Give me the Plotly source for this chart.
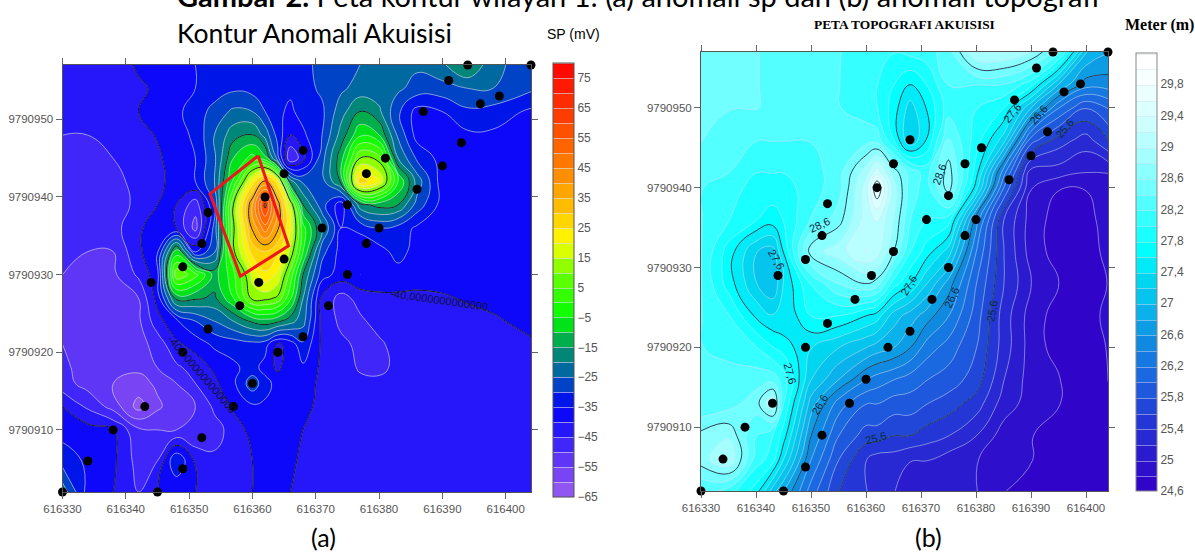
import plotly.graph_objects as go

W, H = 1195, 552

# Stations (shared by both maps)
station_x = [616330,616334,616338,616343,616345,616349,616352,616357,616360,616349,616353,616344,616349,616352,616353,616358,616361,616365,616362,616365,616368,616368,616364,616372,616375,616371,616375,616378,616380,616378,616381,616386,616390,616393,616387,616396,616399,616391,616394,616404]
station_y = [9790902,9790906,9790910,9790913,9790902,9790905,9790909,9790913,9790916,9790920,9790923,9790929,9790931,9790934,9790938,9790926,9790929,9790932,9790940,9790943,9790946,9790922,9790920,9790926,9790930,9790936,9790939,9790934,9790936,9790943,9790945,9790941,9790944,9790947,9790951,9790952,9790953,9790955,9790957,9790957]

# Panel (a): SP anomaly
sp_x = [616330,616334,616338,616342,616345,616348,616351,616354,616357,616360,616362,616364,616366,616368,616371,616374,616377,616380,616383,616386,616390,616394,616398,616404]
sp_y = [9790957,9790954,9790951,9790948,9790945,9790942,9790939,9790936,9790933,9790930,9790927,9790924,9790921,9790918,9790916,9790913,9790910,9790906,9790902]
sp_z = [
 [-44,-44,-44,-39,-37,-36,-35,-34,-33.5,-34,-34,-33,-33,-31,-29,-27,-25,-24,-24,-24,-21,-14,-24,-27],
 [-44,-44,-44,-41,-39,-37,-35,-33,-31,-32,-34,-34,-34,-32,-29,-26,-23,-23,-24,-27,-27,-25,-25,-29],
 [-45,-45,-43,-40,-38,-36,-33,-28,-24,-25,-30,-34,-36,-33,-31,-22,-15,-19,-29,-37,-35,-31,-32,-36],
 [-45,-45,-44,-42,-39.5,-37,-34,-25,-17,-15,-22,-32,-40,-36,-30,-18,-6,-10,-26,-37,-37,-36,-36,-37],
 [-46,-46,-45,-44,-41,-37,-35,-26,-10,-3,-8,-28,-50,-42,-27,-12,10,8,-20,-31,-37,-36,-37,-38],
 [-46,-46,-46,-44,-42,-37,-35,-25,-4,22,36,22,-18,-26,-27,-14,28,20,-5,-22,-38,-37,-38,-39],
 [-47,-47,-47,-44,-40,-40,-48,-30,10,40,62,38,15,-15,-28,-38,-17,-13,-15,-27,-37,-37,-38,-39],
 [-48,-48,-47,-41,-37,-40,-52,-28,9,36,48,36,20,-3,-20,-35,-34,-30,-32,-36,-37,-38,-38,-39],
 [-49,-50,-50,-41,-36,-8,-36,-26,9,27,30,26,14,-5,-28,-37,-38,-37,-33,-37,-38,-38,-39,-39],
 [-50,-51,-51,-44,-37,9,2,-12,-2,17,24,19,3,-15,-33,-37,-35,-37,-37,-38,-38,-38,-38,-38],
 [-51,-52,-52,-50,-38,-13,-14,-16,-5,12,12,9,-4,-20,-41,-47,-43,-41,-41,-41,-40.5,-39.5,-38,-36],
 [-51,-52,-53,-51,-42,-36,-30,-25,-20,-14,-12,-14,-18,-23,-42,-46,-46,-43,-42,-42,-42,-41.5,-41,-38],
 [-50,-52,-54,-52,-48,-41,-38,-34,-33,-32,-33,-41,-38,-31,-41,-44,-46,-46,-43,-43,-43,-43,-42,-41],
 [-49,-52,-54,-54,-50,-46,-43,-39,-36,-33,-37,-41,-37,-36,-41,-43,-45.5,-46,-44,-43,-43,-43,-43,-42],
 [-48,-52,-55,-57,-54,-50,-45,-41,-36,-27,-33,-37,-37,-38,-41,-42,-44,-44,-43,-43,-43,-43,-43,-43],
 [-40,-46,-52,-62,-56,-52,-50,-44,-39,-36,-36,-37,-38,-39,-41,-42,-43,-43,-43,-43,-43,-43,-43,-43],
 [-37,-38,-40,-49,-50,-50,-50,-47,-43,-38,-38,-39,-39,-40,-42,-43,-43,-43,-43,-43,-43,-43,-43,-43],
 [-32,-36,-39,-47,-45,-30,-41,-44,-43,-40,-39,-39,-39,-41,-43,-43,-43,-43,-43,-43,-43,-43,-43,-43],
 [-22,-37,-40,-45,-40,-40,-40,-44,-43,-40,-39,-39,-40,-42,-43,-43,-43,-43,-43,-43,-43,-43,-43,-43],
]
sp_ticks = [-65,-55,-45,-35,-25,-15,-5,5,15,25,35,45,55,65,75]

# Red survey box on panel (a)
box_x = [616360.9,616353.3,616358.1,616365.7,616360.9]
box_y = [9790945.3,9790940.4,9790929.8,9790933.7,9790945.3]

# Panel (b): topography
topo_x = [616330,616335,616340,616343,616345,616350,616355,616360,616362,616365,616368,616371,616375,616380,616385,616390,616395,616400,616404]
topo_y = [9790957,9790953,9790950,9790946,9790942,9790940,9790936,9790932,9790928,9790924,9790920,9790916,9790913,9790909,9790906,9790902]
topo_z = [
 [28.4,28.4,28.4,28.35,28.3,28.2,28.2,28.1,28.0,28.0,28.05,28.1,28.3,29.0,29.0,28.8,28.3,27.0,26.8],
 [28.4,28.4,28.4,28.35,28.3,28.2,28.2,28.0,28.0,27.8,27.6,27.8,28.2,28.2,28.2,27.9,27.0,26.5,26.5],
 [28.4,28.4,28.4,28.35,28.3,28.2,28.2,28.1,28.0,27.7,27.3,27.6,28.1,28.0,27.8,27.0,26.2,25.8,26.0],
 [28.4,28.3,28.2,28.2,28.2,28.2,28.2,28.3,28.3,27.8,27.2,27.6,28.4,27.9,27.3,25.9,25.5,25.3,25.6],
 [28.3,28.2,28.0,28.0,28.0,28.1,28.3,28.9,29.3,28.7,28.3,28.1,28.7,27.7,26.3,25.1,25.1,25.0,25.0],
 [28.2,28.1,27.9,27.9,27.9,28.1,28.3,29.1,29.8,28.9,28.3,28.1,28.7,27.5,26.0,25.0,24.8,24.8,24.9],
 [28.2,28.0,27.8,27.7,27.8,28.2,28.5,29.1,29.2,28.8,28.2,28.0,27.9,26.5,25.4,24.9,24.7,24.7,24.9],
 [28.2,27.7,27.2,27.1,27.6,28.7,28.9,29.2,29.1,28.6,28.0,27.7,27.3,26.2,25.4,24.9,24.7,24.6,24.9],
 [28.2,27.7,27.2,27.0,27.4,28.0,28.4,28.6,28.5,27.9,27.6,27.2,26.7,26.0,25.4,25.0,24.8,24.6,24.8],
 [28.2,28.0,27.55,27.4,27.4,27.8,27.8,27.6,27.5,27.1,26.9,26.7,26.4,25.9,25.3,24.9,24.7,24.6,24.9],
 [28.2,28.1,28.0,27.8,27.7,27.4,27.2,27.0,26.9,26.8,26.6,26.3,26.1,25.8,25.3,24.9,24.7,24.7,24.8],
 [28.3,28.3,28.3,28.3,28.1,27.2,26.8,26.4,26.3,26.2,26.1,26.0,25.9,25.7,25.2,24.9,24.8,24.7,24.8],
 [28.2,28.3,28.5,29.0,28.0,26.9,26.3,26.0,26.0,25.9,25.9,25.8,25.7,25.5,25.1,24.9,24.8,24.7,24.7],
 [28.65,28.75,28.2,28.0,27.7,26.6,26.0,25.7,25.7,25.6,25.6,25.5,25.4,25.2,24.9,24.8,24.7,24.6,24.6],
 [28.7,29.0,28.1,27.9,27.4,26.4,25.8,25.4,25.3,25.3,25.2,25.2,25.1,25.0,24.9,24.8,24.7,24.6,24.6],
 [28.2,28.1,27.7,27.1,26.8,26.1,25.6,25.4,25.3,25.2,25.1,25.1,25.0,25.0,24.8,24.7,24.6,24.6,24.6],
]
topo_ticks = [24.6,25.0,25.4,25.8,26.2,26.6,27.0,27.4,27.8,28.2,28.6,29.0,29.4,29.8]
topo_tick_labels = ["24,6","25","25,4","25,8","26,2","26,6","27","27,4","27,8","28,2","28,6","29","29,4","29,8"]

x_ticks = [616330,616340,616350,616360,616370,616380,616390,616400]
y_ticks = [9790910,9790920,9790930,9790940,9790950]

title_main = "<b>Gambar 2.</b> Peta kontur wilayah 1: (a) anomali sp dan (b) anomali topografi"
title_a = "Kontur Anomali Akuisisi"
title_b = "<b>PETA TOPOGRAFI AKUISISI</b>"
unit_a = "SP (mV)"
unit_b = "<b>Meter (m)</b>"
label_40 = "-40,0000000000000"

# Line labels: text, x, y, angle
labels_b = [
 ("28,6",616351.5,9790935.3,-25),("27,6",616343.8,9790931,60),("27,6",616346.2,9790916.8,75),
 ("26,6",616351.5,9790912.8,-60),("25,6",616361.7,9790908.7,-15),("25,6",616383,9790924.5,-80),
 ("26,6",616375.5,9790926.2,-65),("27,6",616367.8,9790927.8,-60),("28,6",616373.3,9790941.6,-70),
 ("27,6",616386.6,9790949.3,-50),("26,6",616391.3,9790949.1,-50),("25,6",616396,9790947.4,-50),
]

def scale(stops):
    lo, hi = stops[0][0], stops[-1][0]
    return [[(v - lo) / (hi - lo), f"rgb({c[0]},{c[1]},{c[2]})"] for v, c in stops]

sp_scale = scale([(-65,(155,95,240)),(-55,(110,60,245)),(-45,(50,30,250)),(-40,(25,15,250)),(-35,(0,0,250)),
 (-30,(0,45,215)),(-25,(0,90,180)),(-20,(0,120,140)),(-15,(0,150,100)),(-10,(0,200,50)),(-5,(0,255,0)),
 (5,(70,255,0)),(10,(110,255,0)),(15,(180,255,0)),(20,(255,255,0)),(30,(255,200,0)),(45,(255,130,0)),
 (60,(255,70,0)),(80,(255,0,0))])
topo_scale = scale([(24.6,(50,0,200)),(25.0,(45,20,205)),(25.6,(35,60,215)),(26.2,(25,110,225)),(26.6,(15,140,225)),
 (27.0,(10,180,235)),(27.4,(0,215,240)),(27.8,(0,255,255)),(28.2,(50,255,255)),(28.6,(110,255,255)),
 (29.0,(160,255,255)),(29.4,(200,255,255)),(29.8,(230,255,255)),(30.2,(255,255,255))])

TICKF = "Liberation Sans"
SANS = "Lato"
SERIF = "Liberation Serif"
GREY = "#555555"

fig = go.Figure()

# Panel (a)
fig.add_trace(go.Contour(x=sp_x, y=sp_y[::-1], z=sp_z[::-1], xaxis="x", yaxis="y",
    colorscale=sp_scale, zmin=-65, zmax=80, autocontour=False,
    contours=dict(start=-65.01, end=80, size=5, coloring="fill"),
    line=dict(color="rgba(225,225,235,0.6)", width=1, smoothing=1.3),
    colorbar=dict(x=553/W, xanchor="left", thickness=21, thicknessmode="pixels",
                  len=434, lenmode="pixels", y=1-63/H, yanchor="top", xpad=0, ypad=0,
                  outlinecolor="#555", outlinewidth=1, tickvals=sp_ticks, ticks="",
                  tickfont=dict(family=TICKF, size=12, color=GREY)),
    hoverinfo="skip"))
fig.add_trace(go.Contour(x=sp_x, y=sp_y[::-1], z=sp_z[::-1], xaxis="x", yaxis="y",
    showscale=False, autocontour=False, contours=dict(start=-40.01, end=60, size=25, coloring="none"),
    line=dict(color="rgba(0,0,0,0.85)", width=1, smoothing=1.3), hoverinfo="skip"))
fig.add_trace(go.Scatter(x=box_x, y=box_y, xaxis="x", yaxis="y", mode="lines",
    line=dict(color="#f0141e", width=3), showlegend=False, hoverinfo="skip"))
fig.add_trace(go.Scatter(x=station_x, y=station_y, xaxis="x", yaxis="y", mode="markers", cliponaxis=False,
    marker=dict(color="black", size=9), showlegend=False, hoverinfo="skip"))

# Panel (b)
fig.add_trace(go.Contour(x=topo_x, y=topo_y[::-1], z=topo_z[::-1], xaxis="x2", yaxis="y2",
    colorscale=topo_scale, zmin=24.6, zmax=30.2, autocontour=False,
    contours=dict(start=24.59, end=30.2, size=0.2, coloring="fill"),
    line=dict(color="rgba(215,225,240,0.5)", width=1, smoothing=1.3),
    colorbar=dict(x=1136/W, xanchor="left", thickness=21, thicknessmode="pixels",
                  len=438, lenmode="pixels", y=1-53/H, yanchor="top", xpad=0, ypad=0,
                  outlinecolor="#888", outlinewidth=1, tickvals=topo_ticks, ticktext=topo_tick_labels, ticks="",
                  tickfont=dict(family=TICKF, size=12, color=GREY)),
    hoverinfo="skip"))
fig.add_trace(go.Contour(x=topo_x, y=topo_y[::-1], z=topo_z[::-1], xaxis="x2", yaxis="y2",
    showscale=False, autocontour=False, contours=dict(start=25.59, end=29.6, size=1.0, coloring="none"),
    line=dict(color="rgba(10,40,60,0.85)", width=1, smoothing=1.3), hoverinfo="skip"))
fig.add_trace(go.Scatter(x=station_x, y=station_y, xaxis="x2", yaxis="y2", mode="markers", cliponaxis=False,
    marker=dict(color="black", size=9), showlegend=False, hoverinfo="skip"))

def txt(text, px, py, size, family, color="black", **kw):
    return dict(text=text, x=px/W, y=1-py/H, xref="paper", yref="paper", showarrow=False,
                font=dict(family=family, size=size, color=color), xanchor="center", yanchor="middle", **kw)

ann = [
    txt(title_main, 638, -4, 29, SANS),
    txt(title_a, 314, 33, 26.5, SANS),
    txt(unit_a, 573, 34, 14, TICKF),
    txt(title_b, 904, 25, 13.4, SERIF),
    txt(unit_b, 1159, 25, 16, SERIF),
    txt("(a)", 323, 537, 25, SANS),
    txt("(b)", 928, 537, 25, SANS),
    dict(text=label_40, x=616389.5, y=9790926.7, xref="x", yref="y", showarrow=False, textangle=8,
         font=dict(family=TICKF, size=11, color="#101040")),
    dict(text=label_40, x=616352, y=9790917.2, xref="x", yref="y", showarrow=False, textangle=49,
         font=dict(family=TICKF, size=11, color="#101040")),
]
for t, x, y, a in labels_b:
    ann.append(dict(text=t, x=x, y=y, xref="x2", yref="y2", showarrow=False, textangle=a,
                    font=dict(family=TICKF, size=11, color="#0a2a40")))

def axis(dom, rng, ticks, anchor):
    return dict(domain=dom, range=rng, tickvals=ticks, tickformat="d", anchor=anchor, mirror="ticks",
                ticks="outside", ticklen=6, tickcolor="#666", showline=True, linecolor="#555", linewidth=1,
                showgrid=False, zeroline=False, tickfont=dict(family=TICKF, size=11.5, color=GREY))

fig.update_layout(
    width=W, height=H, margin=dict(l=0, r=0, t=0, b=0, autoexpand=False), paper_bgcolor="white", plot_bgcolor="white",
    showlegend=False, annotations=ann,
    xaxis=axis([62.5/W, 531/W], [616330, 616404], x_ticks, "y"),
    yaxis=axis([1-492/H, 1-65/H], [9790902, 9790957], y_ticks, "x"),
    xaxis2=axis([701/W, 1108/W], [616330, 616404], x_ticks, "y2"),
    yaxis2=axis([1-491/H, 1-52/H], [9790902, 9790957], y_ticks, "x2"),
)

fig.write_html("out.html", config={"displayModeBar": False},
               post_script="document.body.style.margin='0';document.body.style.overflow='hidden';")
